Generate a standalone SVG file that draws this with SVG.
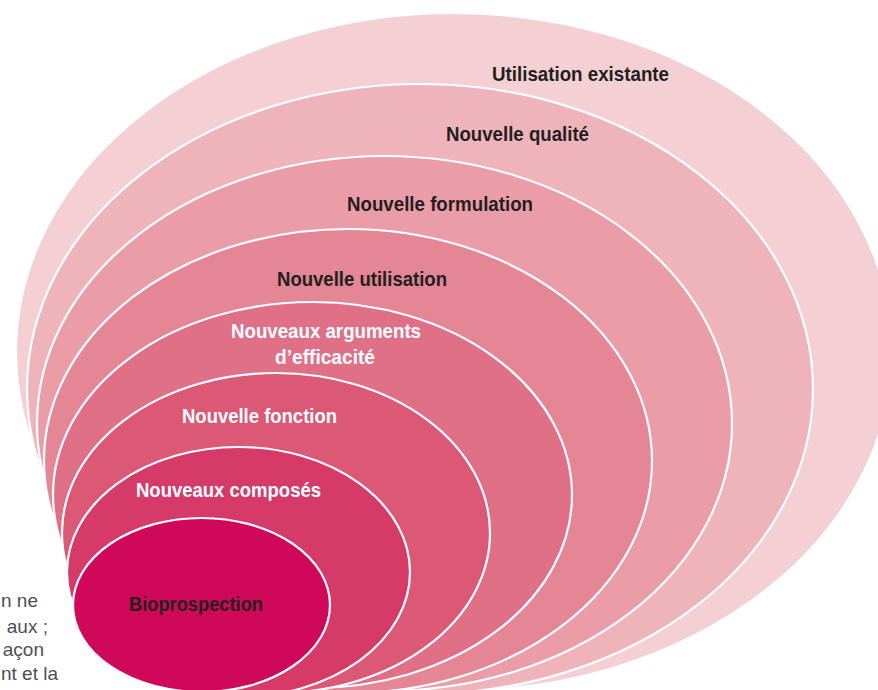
<svg xmlns="http://www.w3.org/2000/svg" width="878" height="690" viewBox="0 0 878 690">
<style>
.ring{stroke:#ffffff;stroke-width:2.2}
.lbl{font-family:"Liberation Sans",Arial,sans-serif;font-weight:bold;font-size:21px}
.dark{fill:#231f20}
.light{fill:#ffffff}
.side{font-family:"Liberation Sans",Arial,sans-serif;font-size:19px;fill:#4f4f51}
</style>
<rect width="878" height="690" fill="#ffffff"/>
<g id="side-text">
<text class="side" x="38" y="607" text-anchor="end">n ne</text>
<text class="side" x="48" y="633" text-anchor="end">aux ;</text>
<text class="side" x="44" y="656" text-anchor="end">açon</text>
<text class="side" x="58" y="680" text-anchor="end">nt et la</text>
</g>
<g id="utilisation-existante">
<ellipse class="ring" cx="454" cy="352" rx="438" ry="339" fill="#f4d0d4"/>
<text class="lbl dark" x="492" y="81" textLength="177" lengthAdjust="spacingAndGlyphs">Utilisation existante</text>
</g>
<g id="nouvelle-qualite">
<ellipse class="ring" cx="420" cy="389" rx="393" ry="305" fill="#efb4bb"/>
<text class="lbl dark" x="446" y="141" textLength="143" lengthAdjust="spacingAndGlyphs">Nouvelle qualité</text>
</g>
<g id="nouvelle-formulation">
<ellipse class="ring" cx="384.5" cy="423.5" rx="347.5" ry="267.5" fill="#ea9ca8"/>
<text class="lbl dark" x="347" y="211" textLength="186" lengthAdjust="spacingAndGlyphs">Nouvelle formulation</text>
</g>
<g id="nouvelle-utilisation">
<ellipse class="ring" cx="348" cy="461" rx="304" ry="232" fill="#e48696"/>
<text class="lbl dark" x="277" y="286" textLength="170" lengthAdjust="spacingAndGlyphs">Nouvelle utilisation</text>
</g>
<g id="nouveaux-arguments">
<ellipse class="ring" cx="312.5" cy="495" rx="259.5" ry="193" fill="#e07088"/>
<text class="lbl light" x="231" y="338" textLength="190" lengthAdjust="spacingAndGlyphs">Nouveaux arguments</text>
<text class="lbl light" x="275" y="364" textLength="100" lengthAdjust="spacingAndGlyphs">d’efficacité</text>
</g>
<g id="nouvelle-fonction">
<ellipse class="ring" cx="276" cy="533" rx="214" ry="160" fill="#db5877"/>
<text class="lbl light" x="182" y="423" textLength="155" lengthAdjust="spacingAndGlyphs">Nouvelle fonction</text>
</g>
<g id="nouveaux-composes">
<ellipse class="ring" cx="238.5" cy="572" rx="171.5" ry="125" fill="#d63a69"/>
<text class="lbl light" x="136" y="497" textLength="185" lengthAdjust="spacingAndGlyphs">Nouveaux composés</text>
</g>
<g id="bioprospection">
<ellipse class="ring" cx="201.5" cy="605" rx="128.5" ry="87" fill="#d0085a"/>
<text class="lbl dark" x="129" y="611" textLength="134" lengthAdjust="spacingAndGlyphs">Bioprospection</text>
</g>
<g id="connectors"/>
</svg>
